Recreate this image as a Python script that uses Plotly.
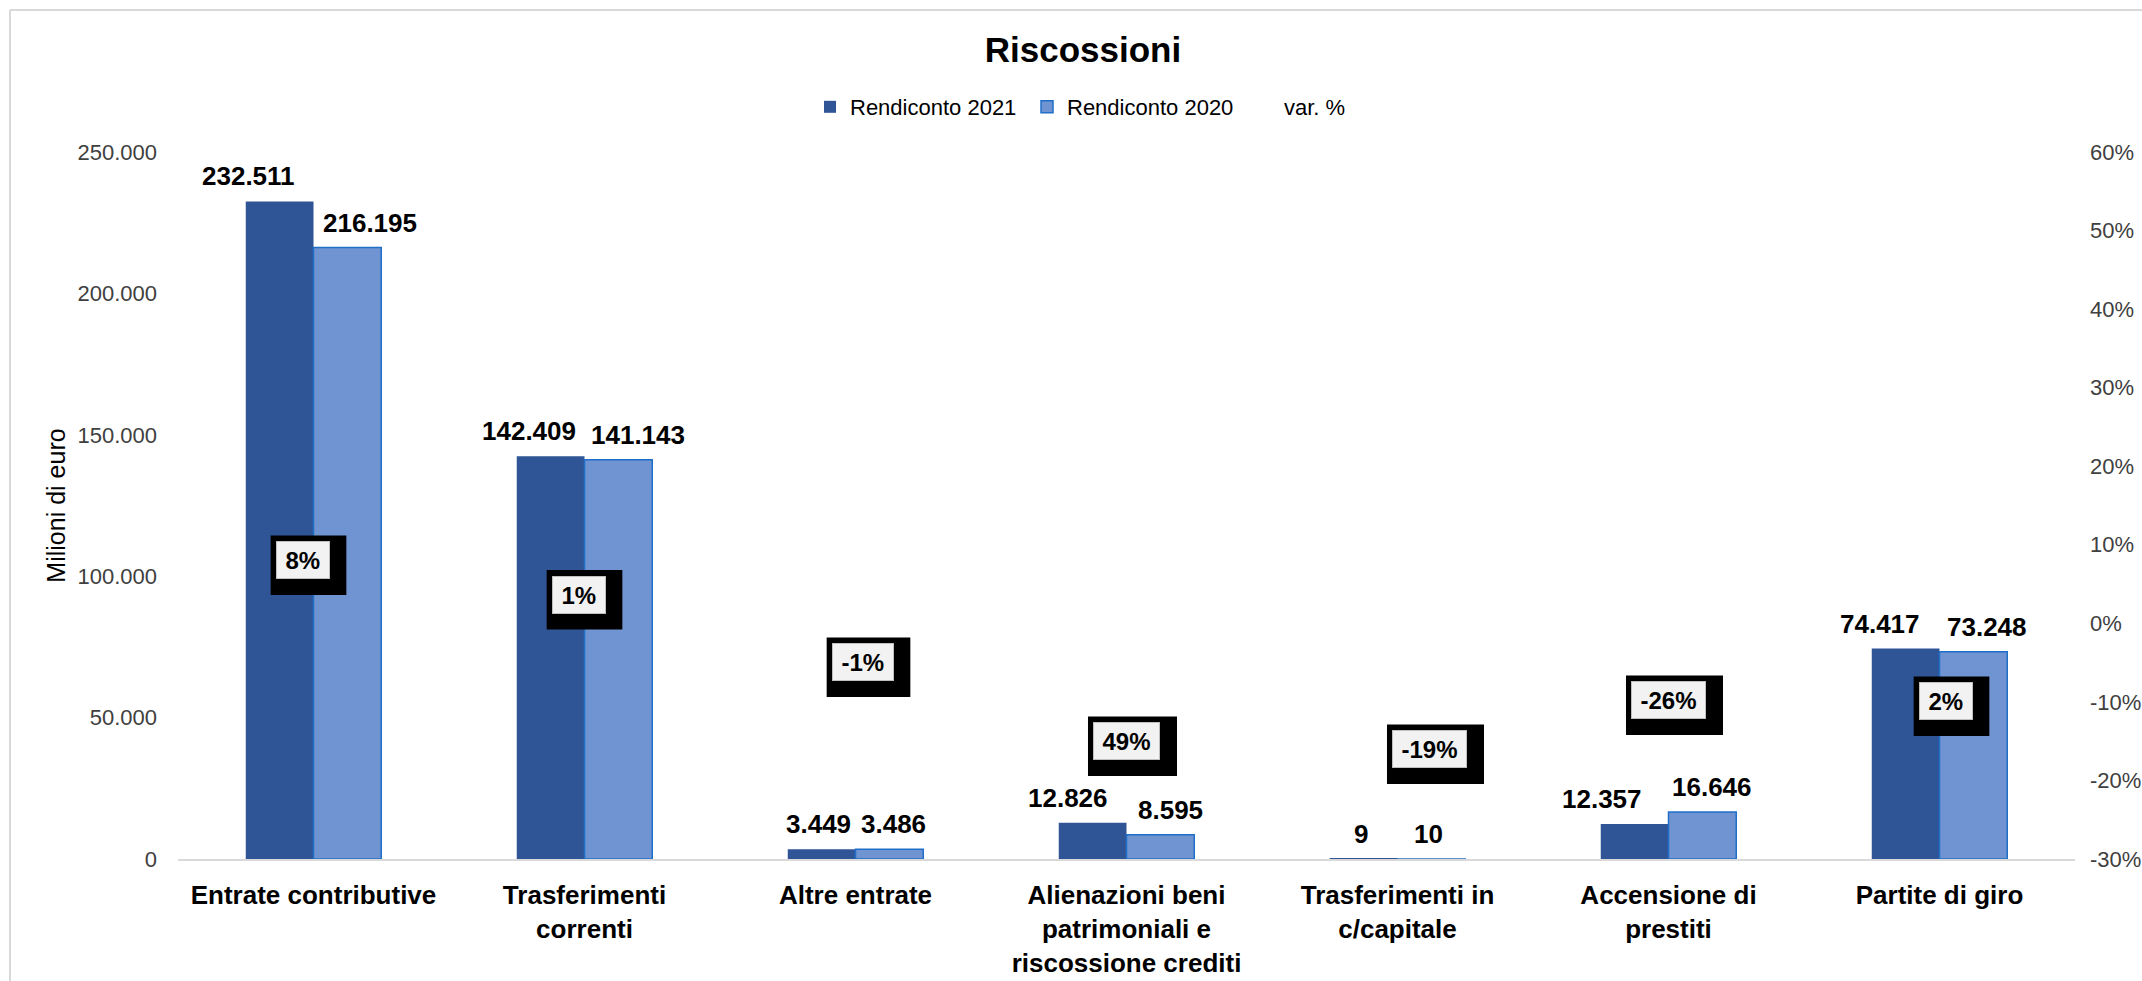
import plotly.graph_objects as go

# ---------------- data ----------------
categories = [
    "Entrate contributive",
    "Trasferimenti<br>correnti",
    "Altre entrate",
    "Alienazioni beni<br>patrimoniali e<br>riscossione crediti",
    "Trasferimenti in<br>c/capitale",
    "Accensione di<br>prestiti",
    "Partite di giro",
]
rendiconto_2021 = [232511, 142409, 3449, 12826, 9, 12357, 74417]
rendiconto_2020 = [216195, 141143, 3486, 8595, 10, 16646, 73248]
var_pct = [8, 1, -1, 49, -19, -26, 2]

y2_tickvals = [-0.3, -0.2, -0.1, 0.0, 0.1, 0.2, 0.3, 0.4, 0.5, 0.6]
y2_ticktext = ["-30%", "-20%", "-10%", "0%", "10%", "20%", "30%", "40%", "50%", "60%"]

# ---------------- layout / style ----------------
W, H = 2142, 981
ML, MR, MT, MB = 178, 67, 152, 122
PW = W - ML - MR
PH = H - MT - MB
cat_w = PW / len(categories)
bar_off = 0.125 * cat_w

# label fine offsets (px) and var% label heights (left-axis units) - positions only
lbl21_dx = [-31, -22, -3, -25, -3, -33, -26]
lbl20_dx = [23, 20, 4, 10, -3, 10, 14]
var_dx = [-11, -6, 7, 0, 32, 0, 6]
var_label_y = [105700, 93500, 69700, 41700, 38900, 56200, 55900]

FONT = "Arial, Liberation Sans, sans-serif"
DARK = "#2F5597"
LIGHT = "#7094D2"
LIGHT_EDGE = "#1F6FC8"

fig = go.Figure()
fig.add_trace(go.Bar(
    x=categories, y=rendiconto_2021, name="Rendiconto 2021",
    marker=dict(color=DARK, line=dict(width=0)),
))
fig.add_trace(go.Bar(
    x=categories, y=rendiconto_2020, name="Rendiconto 2020",
    marker=dict(color=LIGHT, line=dict(color=LIGHT_EDGE, width=1.5)),
))
fig.add_trace(go.Scatter(
    x=categories, y=[v / 100 for v in var_pct], name="var. %", yaxis="y2",
    mode="lines", line=dict(color="rgba(0,0,0,0)", width=0), hoverinfo="skip",
))


def fmt_it(v):
    return f"{v:,}".replace(",", ".")


def px_x(p):
    return (p - ML) / PW


def px_y(p):
    return (H - MB - p) / PH


ann = []
shapes = [
    dict(type="line", xref="paper", yref="paper", x0=px_x(10), x1=px_x(10),
         y0=px_y(10), y1=px_y(H + 10), line=dict(color="#D9D9D9", width=2)),
    dict(type="line", xref="paper", yref="paper", x0=px_x(10), x1=px_x(W + 10),
         y0=px_y(10), y1=px_y(10), line=dict(color="#D9D9D9", width=2)),
]

for i, c in enumerate(categories):
    ann.append(dict(x=c, y=rendiconto_2021[i], xref="x", yref="y",
                    text="<b>" + fmt_it(rendiconto_2021[i]) + "</b>", showarrow=False,
                    xshift=-bar_off + lbl21_dx[i], yshift=25, yanchor="middle",
                    font=dict(family=FONT, size=26, color="#000000")))
    ann.append(dict(x=c, y=rendiconto_2020[i], xref="x", yref="y",
                    text="<b>" + fmt_it(rendiconto_2020[i]) + "</b>", showarrow=False,
                    xshift=bar_off + lbl20_dx[i], yshift=25, yanchor="middle",
                    font=dict(family=FONT, size=26, color="#000000")))

em = {"-": 0.333, "%": 0.889}
for i, c in enumerate(categories):
    t = f"{var_pct[i]}%"
    tw = sum(em.get(ch, 0.556) for ch in t) * 24 + 1
    half_w = (tw + 18) / 2
    # black shadow box behind the label
    shapes.append(dict(type="rect", xref="x", yref="y",
                       xsizemode="pixel", ysizemode="pixel",
                       xanchor=c, yanchor=var_label_y[i],
                       x0=var_dx[i] - half_w - 5, x1=var_dx[i] + half_w + 17,
                       y0=-19 - 16, y1=19 + 5.5,
                       fillcolor="#000000", line=dict(width=0), layer="above"))
    # light inner box with text
    ann.append(dict(x=c, y=var_label_y[i], xref="x", yref="y", text="<b>" + t + "</b>",
                    showarrow=False, xshift=var_dx[i],
                    width=tw, height=20, borderpad=8, bgcolor="#F2F2F2",
                    bordercolor="#BFBFBF", borderwidth=1,
                    font=dict(family=FONT, size=24, color="#000000")))

fig.update_layout(
    width=W, height=H,
    margin=dict(l=ML, r=MR, t=MT, b=MB, pad=0, autoexpand=False),
    paper_bgcolor="white", plot_bgcolor="white",
    separators=",.",
    font=dict(family=FONT, color="#404040"),
    title=dict(text="<b>Riscossioni</b>", x=1083 / W, xanchor="center",
               y=1 - 50 / H, yanchor="middle", yref="container",
               font=dict(family=FONT, size=35, color="#000000")),
    barmode="group", bargap=0.5, bargroupgap=0,
    showlegend=True,
    legend=dict(orientation="h", x=px_x(810), xanchor="left", y=px_y(107), yanchor="middle",
                font=dict(family=FONT, size=22, color="#000000"),
                entrywidth=172, entrywidthmode="pixels",
                bgcolor="rgba(0,0,0,0)", traceorder="normal"),
    xaxis=dict(showline=True, linecolor="#D9D9D9", linewidth=2, showgrid=False,
               ticks="", tickfont=dict(family=FONT, size=26, color="#000000"),
               tickprefix="<b>", ticksuffix="</b>", ticklabelstandoff=12,
               zeroline=False, automargin=False),
    yaxis=dict(range=[0, 250000], dtick=50000, tickformat=",d", showgrid=False,
               zeroline=False, showline=False, ticks="", automargin=False,
               tickfont=dict(family=FONT, size=22, color="#404040"),
               ticklabelstandoff=20,
               title=dict(text="Milioni di euro", standoff=4,
                          font=dict(family=FONT, size=25, color="#000000"))),
    yaxis2=dict(overlaying="y", side="right", range=[-0.3, 0.6],
                tickvals=y2_tickvals, ticktext=y2_ticktext, showgrid=False,
                zeroline=False, showline=False, ticks="", automargin=False,
                tickfont=dict(family=FONT, size=22, color="#404040"),
                ticklabelstandoff=14),
    annotations=ann,
    shapes=shapes,
)

fig.write_html("out.html", config={"displayModeBar": False},
               post_script="document.body.style.margin='0';document.body.style.overflow='hidden';")
